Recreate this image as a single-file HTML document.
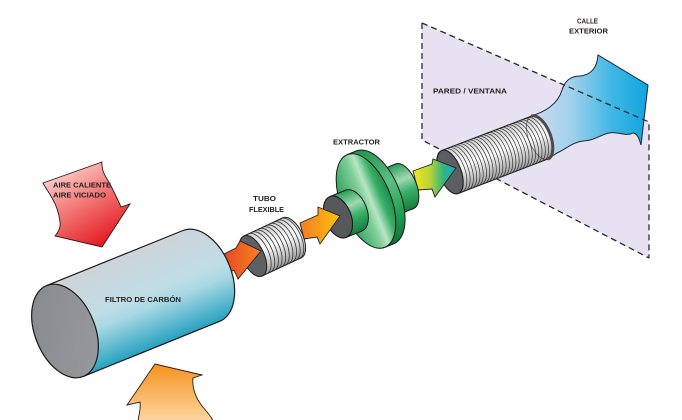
<!DOCTYPE html>
<html><head><meta charset="utf-8"><style>
html,body{margin:0;padding:0;background:#fff;}
svg{display:block;}
text{font-family:"Liberation Sans",Arial,sans-serif;font-weight:bold;fill:#231f20;font-size:7.5px;}
</style></head><body>
<svg width="682" height="420" viewBox="0 0 682 420" xmlns="http://www.w3.org/2000/svg">
<defs>
<linearGradient id="gFilter" x1="0" y1="0" x2="0" y2="1">
 <stop offset="0" stop-color="#ced3d9"/><stop offset="0.45" stop-color="#c0dde6"/><stop offset="0.6" stop-color="#a9d8e4"/><stop offset="1" stop-color="#27a2c0"/>
</linearGradient>
<linearGradient id="gGrayFace" x1="0" y1="0" x2="1" y2="1"><stop offset="0" stop-color="#87898d"/><stop offset="1" stop-color="#979a9e"/></linearGradient>
<linearGradient id="gRib" x1="0" y1="0" x2="0" y2="1"><stop offset="0" stop-color="#cfcfcf"/><stop offset="0.45" stop-color="#ffffff"/><stop offset="1" stop-color="#9c9c9c"/></linearGradient>
<linearGradient id="gGreen" x1="0" y1="0" x2="0" y2="1"><stop offset="0" stop-color="#2a9c56"/><stop offset="0.35" stop-color="#9fd9b0"/><stop offset="0.6" stop-color="#3db36b"/><stop offset="1" stop-color="#137c3f"/></linearGradient>
<linearGradient id="gRim" x1="0" y1="0" x2="0" y2="1"><stop offset="0" stop-color="#23924e"/><stop offset="0.4" stop-color="#5cc080"/><stop offset="0.7" stop-color="#2aa25a"/><stop offset="1" stop-color="#0f7238"/></linearGradient>
<linearGradient id="gGreenFace" x1="0" y1="0" x2="1" y2="0"><stop offset="0" stop-color="#2a9e58"/><stop offset="0.45" stop-color="#7fcf98"/><stop offset="0.6" stop-color="#b8e5c4"/><stop offset="0.8" stop-color="#3aaf68"/><stop offset="1" stop-color="#1c8c4b"/></linearGradient>
<linearGradient id="gFlow" x1="0" y1="0" x2="1" y2="0"><stop offset="0" stop-color="#d0dcef"/><stop offset="0.35" stop-color="#9fd0ec"/><stop offset="0.7" stop-color="#3db6e4"/><stop offset="1" stop-color="#0fa5de"/></linearGradient>
<linearGradient id="gA1" x1="0" y1="0" x2="1" y2="0"><stop offset="0" stop-color="#e63a27"/><stop offset="1" stop-color="#f5821f"/></linearGradient>
<linearGradient id="gA2" x1="0" y1="0" x2="1" y2="0"><stop offset="0" stop-color="#f47b20"/><stop offset="1" stop-color="#fdc30f"/></linearGradient>
<linearGradient id="gA3" x1="0" y1="0" x2="1" y2="0"><stop offset="0" stop-color="#f7e71a"/><stop offset="0.4" stop-color="#b5d43a"/><stop offset="0.7" stop-color="#33b57e"/><stop offset="1" stop-color="#1ba6c4"/></linearGradient>
<linearGradient id="gRed" x1="0" y1="0" x2="0.6" y2="1"><stop offset="0" stop-color="#fff0ee"/><stop offset="0.5" stop-color="#f4837f"/><stop offset="1" stop-color="#e41e26"/></linearGradient>
<linearGradient id="gOrange" x1="0" y1="0" x2="0" y2="1"><stop offset="0" stop-color="#f6921e"/><stop offset="1" stop-color="#fdd5a0"/></linearGradient>
</defs>

<!-- wall -->
<polygon points="422,23 649,122 649,258 422,140" fill="#e7e1f2"/>
<path d="M422,23 L422,140 L649,258" fill="none" stroke="#2b2b2b" stroke-width="1.3" stroke-dasharray="6,4"/>

<!-- flow -->
<path d="M531,116 C545,112 558,104 562,90 C565,80 571,76 580,76 C590,75 597,69 598,55 L648,85 L641,145 C639,138 637,133 633,133 C626,137 617,131 609,133 C600,135 593,141 583,141 C573,142 566,149 557,153 L548,159 Z" fill="url(#gFlow)" stroke="#1b2633" stroke-width="1"/>

<!-- wall tube -->
<g transform="translate(450,172) rotate(-21)">
 <ellipse cx="96" cy="0" rx="11" ry="23" fill="url(#gRib)" stroke="#222" stroke-width="1"/>
 <rect x="0" y="-23" width="96" height="46" fill="url(#gRib)"/>
 <path d="M4,-23A11,23 0 0 1 4,23M7.5,-23A11,23 0 0 1 7.5,23M11,-23A11,23 0 0 1 11,23M14.5,-23A11,23 0 0 1 14.5,23M18,-23A11,23 0 0 1 18,23M21.5,-23A11,23 0 0 1 21.5,23M25,-23A11,23 0 0 1 25,23M28.5,-23A11,23 0 0 1 28.5,23M32,-23A11,23 0 0 1 32,23M35.5,-23A11,23 0 0 1 35.5,23M39,-23A11,23 0 0 1 39,23M42.5,-23A11,23 0 0 1 42.5,23M46,-23A11,23 0 0 1 46,23M49.5,-23A11,23 0 0 1 49.5,23M53,-23A11,23 0 0 1 53,23M56.5,-23A11,23 0 0 1 56.5,23M60,-23A11,23 0 0 1 60,23M63.5,-23A11,23 0 0 1 63.5,23M67,-23A11,23 0 0 1 67,23M70.5,-23A11,23 0 0 1 70.5,23M74,-23A11,23 0 0 1 74,23M77.5,-23A11,23 0 0 1 77.5,23M81,-23A11,23 0 0 1 81,23M84.5,-23A11,23 0 0 1 84.5,23M88,-23A11,23 0 0 1 88,23M91.5,-23A11,23 0 0 1 91.5,23" fill="none" stroke="#333" stroke-width="0.7"/>
 <path d="M0,-23 H96 M0,23 H96" stroke="#222" stroke-width="1"/>
 <path d="M96,-23 A11,23 0 0 1 96,23" fill="none" stroke="#4a4a4a" stroke-width="3"/>
 <path d="M96,-23 A11,23 0 0 0 96,23" fill="none" stroke="#333" stroke-width="0.8" opacity="0.7"/>
 <ellipse cx="0" cy="0" rx="11" ry="23" fill="#5c5e62" stroke="#222" stroke-width="1.2"/>
</g>

<!-- arrow 3 -->
<polygon points="413,171 432,164 433,159 456,168 435,197 432,189 418,190" fill="url(#gA3)" stroke="#222" stroke-width="0.9"/>

<path d="M422,23 L649,122 L649,258" fill="none" stroke="#2b2b2b" stroke-width="1.3" stroke-dasharray="6,4"/>

<!-- extractor -->
<g transform="translate(373,199) rotate(-22)">
 <ellipse cx="34" cy="0" rx="12" ry="24" fill="url(#gGreen)" stroke="#1a1a1a" stroke-width="1"/>
 <rect x="0" y="-24" width="34" height="48" fill="url(#gGreen)"/>
 <path d="M0,-24 H34 M0,24 H34" stroke="#1a1a1a" stroke-width="1"/>
</g>
<g transform="translate(366,201) rotate(-22)">
 <ellipse cx="10" cy="0" rx="25" ry="50" fill="url(#gRim)" stroke="#1a1a1a" stroke-width="1"/>
 <rect x="0" y="-50" width="10" height="100" fill="url(#gRim)"/>
 <path d="M0,-50 H10 M0,50 H10" stroke="#1a1a1a" stroke-width="1"/>
 <ellipse cx="0" cy="0" rx="25" ry="50" fill="url(#gGreenFace)" stroke="#1a1a1a" stroke-width="1"/>
</g>
<g transform="translate(338,217) rotate(-22)">
 <ellipse cx="17" cy="0" rx="13" ry="22" fill="url(#gGreen)" stroke="#1a1a1a" stroke-width="1"/>
 <rect x="0" y="-22" width="17" height="44" fill="url(#gGreen)"/>
 <path d="M0,-22 H17 M0,22 H17" stroke="#1a1a1a" stroke-width="1"/>
 <ellipse cx="0" cy="0" rx="13" ry="22" fill="#56585c" stroke="#1a1a1a" stroke-width="1.1"/>
</g>

<!-- arrow 2 -->
<polygon points="300,223 318,215 318,207 340,216 320,244 317,237 304,239" fill="url(#gA2)" stroke="#222" stroke-width="0.9"/>

<!-- tubo flexible -->
<g transform="translate(253,256) rotate(-25)">
 <ellipse cx="43" cy="0" rx="11" ry="22" fill="url(#gRib)" stroke="#222" stroke-width="1"/>
 <rect x="0" y="-22" width="43" height="44" fill="url(#gRib)"/>
 <path d="M5,-22A11,22 0 0 1 5,22M9,-22A11,22 0 0 1 9,22M13,-22A11,22 0 0 1 13,22M17,-22A11,22 0 0 1 17,22M21,-22A11,22 0 0 1 21,22M25,-22A11,22 0 0 1 25,22M29,-22A11,22 0 0 1 29,22M33,-22A11,22 0 0 1 33,22M37,-22A11,22 0 0 1 37,22M41,-22A11,22 0 0 1 41,22" fill="none" stroke="#333" stroke-width="0.8"/>
 <path d="M0,-22 H43 M0,22 H43" stroke="#222" stroke-width="1"/>
 <ellipse cx="0" cy="0" rx="11" ry="22" fill="#5e6064" stroke="#222" stroke-width="1.1"/>
</g>

<!-- arrow 1 -->
<polygon points="214,259 236,248 240,241 261,251 238,279 234,270 216,280" fill="url(#gA1)" stroke="#222" stroke-width="0.9"/>

<!-- filtro -->
<g transform="translate(65,331) rotate(-22)">
 <ellipse cx="147" cy="0" rx="30" ry="49" fill="url(#gFilter)" stroke="#1a1a1a" stroke-width="1.2"/>
 <rect x="0" y="-49" width="147" height="98" fill="url(#gFilter)"/>
 <path d="M0,-49 H147 M0,49 H147" stroke="#1a1a1a" stroke-width="1.2"/>
 <ellipse cx="0" cy="0" rx="30" ry="49" fill="url(#gGrayFace)" stroke="#1a1a1a" stroke-width="1.2"/>
</g>

<!-- red arrow -->
<path d="M43,183 L102,162 C101,172 107,178 111,186 C115,194 118,200 121,207 L130,204 L102,247 L55,236 C58,232 61,228 60,222 C59,214 57,206 52,198 C48,191 45,187 43,183 Z" fill="url(#gRed)" stroke="#2a1a1a" stroke-width="0.9"/>

<!-- orange arrow -->
<path d="M127,405 L155,364 L202,375 L193,378 C192,388 196,398 202,406 C207,412 211,416 213,421 L138,421 C139,414 141,408 140,402 Z" fill="url(#gOrange)" stroke="#2a1a1a" stroke-width="0.9"/>

<!-- labels -->
<text x="53" y="187.5" textLength="58" lengthAdjust="spacingAndGlyphs">AIRE CALIENTE</text>
<text x="53" y="197.5" textLength="53" lengthAdjust="spacingAndGlyphs">AIRE VICIADO</text>
<text x="105" y="302" textLength="76" lengthAdjust="spacingAndGlyphs">FILTRO DE CARBÓN</text>
<text x="253" y="201" textLength="23" lengthAdjust="spacingAndGlyphs">TUBO</text>
<text x="249" y="212" textLength="35" lengthAdjust="spacingAndGlyphs">FLEXIBLE</text>
<text x="333" y="144.5" textLength="47" lengthAdjust="spacingAndGlyphs">EXTRACTOR</text>
<text x="433" y="93.5" textLength="74" lengthAdjust="spacingAndGlyphs">PARED / VENTANA</text>
<text x="577" y="23.5" textLength="21" lengthAdjust="spacingAndGlyphs">CALLE</text>
<text x="569" y="33.5" textLength="39" lengthAdjust="spacingAndGlyphs">EXTERIOR</text>
</svg>
</body></html>
